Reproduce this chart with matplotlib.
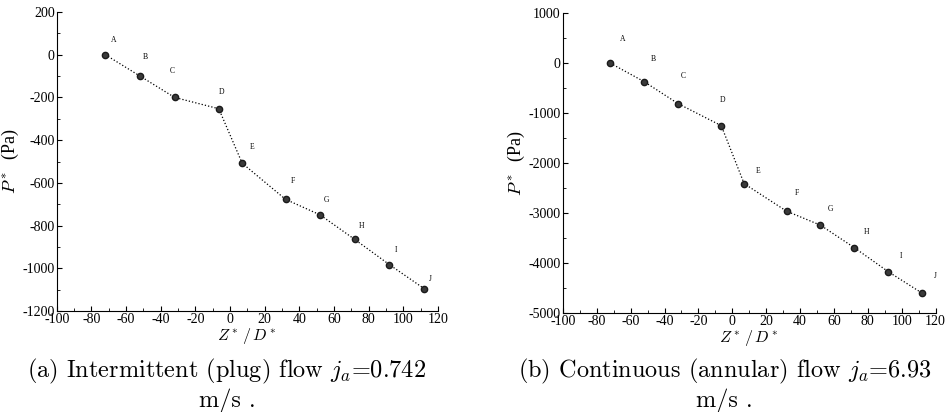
import matplotlib
matplotlib.use('Agg')
import matplotlib.pyplot as plt
from matplotlib.ticker import MultipleLocator

# 数据
labels = ['A', 'B', 'C', 'D', 'E', 'F', 'G', 'H', 'I', 'J']
z_plug = [-72, -52, -32, -6.5, 7, 32, 52, 72, 92, 112]
p_plug = [0, -100, -200, -253, -508, -677, -750, -865, -983, -1095]
z_annular = [-72, -52, -32, -6.5, 7, 32, 52, 72, 92, 112]
p_annular = [0, -370, -810, -1250, -2410, -2960, -3240, -3690, -4170, -4600]

captions = ['(a) Intermittent (plug) flow $j_a$=0.742\nm/s .',
            '(b) Continuous (annular) flow $j_a$=6.93\nm/s .']

plt.rcParams['font.family'] = ['Liberation Serif', 'DejaVu Serif']
plt.rcParams['mathtext.fontset'] = 'cm'
plt.rcParams['axes.unicode_minus'] = False

fig = plt.figure(figsize=(9.46, 4.12), dpi=100)
ax1 = fig.add_axes([0.060, 0.245, 0.403, 0.726])
ax2 = fig.add_axes([0.595, 0.240, 0.394, 0.728])

# 标签偏移 (像素)
off1 = [(8, 11), (5, 15), (-2, 22), (3, 13), (10, 12), (7, 14), (6, 11), (7, 9), (7, 11), (6, 6)]
off2 = [(12, 20), (9, 19), (5, 24), (1, 22), (14, 9), (10, 14), (10, 12), (12, 12), (13, 12), (13, 13)]

panels = [(ax1, z_plug, p_plug, (-1200, 200), 200, 100, off1),
          (ax2, z_annular, p_annular, (-5000, 1000), 1000, 500, off2)]
cap_x = [0.240, 0.766]

for i, (ax, z, p, ylim, ymaj, ymin, off) in enumerate(panels):
    ax.plot(z, p, color='black', linestyle=':', linewidth=0.9, marker='o',
            markersize=4.5, markerfacecolor='#3a3a3a', markeredgecolor='#1a1a1a')
    for lab, x, y, o in zip(labels, z, p, off):
        ax.annotate(lab, (x, y), xytext=(o[0] * 0.72, o[1] * 0.72),
                    textcoords='offset points', fontsize=5.5, ha='center', va='bottom')
    ax.set_xlim(-100, 120)
    ax.set_ylim(*ylim)
    ax.xaxis.set_major_locator(MultipleLocator(20))
    ax.xaxis.set_minor_locator(MultipleLocator(10))
    ax.yaxis.set_major_locator(MultipleLocator(ymaj))
    ax.yaxis.set_minor_locator(MultipleLocator(ymin))
    ax.spines['top'].set_visible(False)
    ax.spines['right'].set_visible(False)
    ax.tick_params(which='both', direction='in', labelsize=10, pad=1.5)
    ax.tick_params(which='major', length=3.5)
    ax.tick_params(which='minor', length=2)
    ax.set_xlabel('$Z^*\\,/\\,D^*$', fontsize=11.5, labelpad=0)
    ax.set_ylabel('$P^*$  (Pa)', fontsize=13, labelpad=1)
    fig.text(cap_x[i], 0.066, captions[i], ha='center', va='center',
             fontsize=17.5, family='cmr10', linespacing=1.15)

fig.savefig('out.png', dpi=100)
